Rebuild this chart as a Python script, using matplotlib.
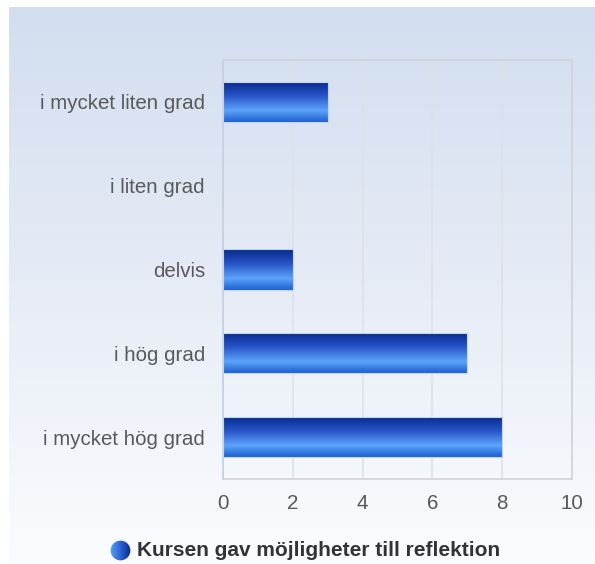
import matplotlib
matplotlib.use("Agg")
import matplotlib.pyplot as plt
import numpy as np
from matplotlib.colors import LinearSegmentedColormap
from matplotlib.patches import Rectangle, Circle

# data
categories = ["i mycket liten grad", "i liten grad", "delvis", "i hög grad", "i mycket hög grad"]
values = [3, 0, 2, 7, 8]
series_name = "Kursen gav möjligheter till reflektion"
x_ticks = [0, 2, 4, 6, 8, 10]

plt.rcParams["font.family"] = ["Liberation Sans", "DejaVu Sans"]

W, H = 595, 564
fig = plt.figure(figsize=(W / 100, H / 100), dpi=100)

# background gradient panel (white margin at left and top)
bg = fig.add_axes([9 / W, 0, 1 - 9 / W, 1 - 7 / H], zorder=0)
bg_cmap = LinearSegmentedColormap.from_list("bg", ["#d2deef", "#e6ecf6", "#fbfcfe"])
bg.imshow(np.linspace(0, 1, 256).reshape(-1, 1), aspect="auto", cmap=bg_cmap,
          extent=(0, 1, 0, 1), origin="upper")
bg.set_axis_off()

# plot area
left, right, top, bottom = 223, 572, 60, 479
ax = fig.add_axes([left / W, 1 - bottom / H, (right - left) / W, (bottom - top) / H], zorder=1)
ax.patch.set_alpha(0)

bar_cmap = LinearSegmentedColormap.from_list(
    "bar", [(0.0, "#062a8c"), (0.35, "#2753c6"), (0.72, "#5ca4fb"), (1.0, "#1c5fd2")])
grad = np.linspace(0, 1, 128).reshape(-1, 1)
h = 0.48
ypos = np.arange(len(categories))[::-1]
for y, v in zip(ypos, values):
    if v <= 0:
        continue
    im = ax.imshow(grad, aspect="auto", cmap=bar_cmap, origin="upper",
                   extent=(0, v, y - h / 2, y + h / 2), zorder=3)
    r = Rectangle((0, y - h / 2), v, h, facecolor="none", edgecolor="#c6d4ee",
                  linewidth=0.8, zorder=4)
    ax.add_patch(r)
    im.set_clip_path(r)

ax.set_xlim(0, 10)
ax.set_ylim(-0.5, len(categories) - 0.5)
ax.set_xticks(x_ticks)
ax.set_yticks(ypos)
ax.set_yticklabels(categories)
ax.tick_params(length=0, labelsize=14.8, labelcolor="#595959")
ax.tick_params(axis="y", pad=13)
ax.tick_params(axis="x", pad=11)
ax.grid(axis="x", color="#dfe1e5", linewidth=1.2, zorder=1)
ax.set_axisbelow(True)
for s in ax.spines.values():
    s.set_color("#d0d2d7")
    s.set_linewidth(1.2)
ax.spines["left"].set_color("#c5cfdf")

# legend: gradient circle + bold label
leg_ax = fig.add_axes([110 / W, 1 - 561 / H, 21 / W, 21 / H], zorder=2)
leg_ax.set_xlim(0, 1)
leg_ax.set_ylim(0, 1)
leg_cmap = LinearSegmentedColormap.from_list("leg", ["#5aa2fa", "#2c62d4", "#0a2a8c"])
im = leg_ax.imshow(np.linspace(0, 1, 64).reshape(1, -1), aspect="auto", cmap=leg_cmap,
                   extent=(0, 1, 0, 1))
c = Circle((0.5, 0.5), 0.47, transform=leg_ax.transData, facecolor="none", edgecolor="none")
leg_ax.add_patch(c)
im.set_clip_path(c)
leg_ax.set_axis_off()
fig.text(137 / W, 1 - 551 / H, series_name, fontsize=15, fontweight="bold",
         color="#333333", va="center", ha="left")

fig.savefig("out.png", dpi=100)
